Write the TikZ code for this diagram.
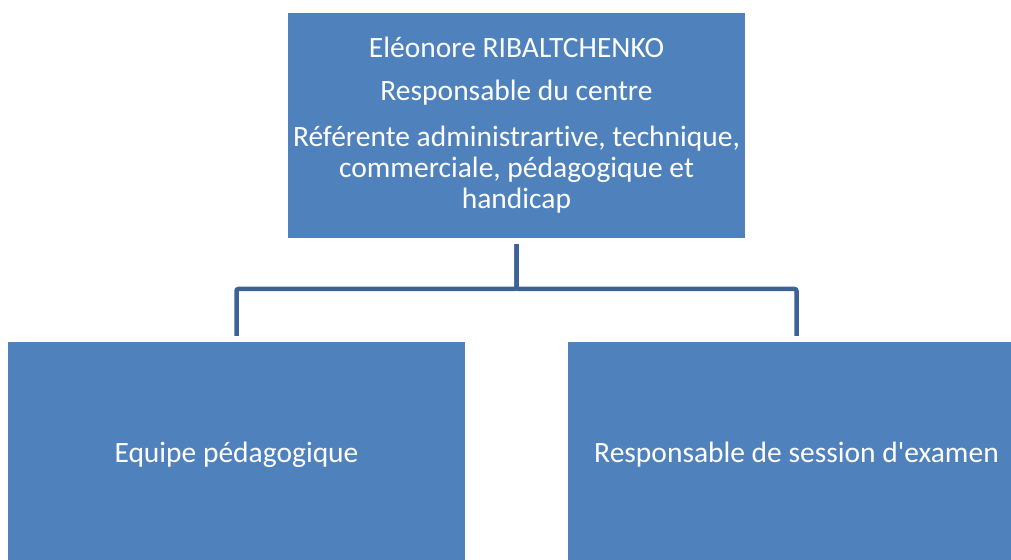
\documentclass[tikz,border=0pt]{standalone}
\usepackage{fontspec}
\setmainfont{Carlito}[Ligatures={TeXOff,NoCommon}]
\definecolor{boxblue}{HTML}{4F81BD}
\definecolor{lineblue}{HTML}{3C6395}
\begin{document}
\begin{tikzpicture}[x=1pt,y=1pt,
  box/.style={fill=boxblue, draw=none, text=white, align=center, inner sep=0pt,
    font=\fontsize{29.5}{31}\selectfont},
  conn/.style={draw=lineblue, line width=4.5pt, shorten <=6pt, shorten >=6pt, rounded corners=2pt}]
\useasboundingbox (0,0) rectangle (1011,559);
\begin{scope}
\clip (0,0) rectangle (1011,559);
\node[box, minimum width=457, minimum height=225] (top) at (516.5,433.5) {};
\node[box, minimum width=457, minimum height=220] (left) at (236.5,107) {};
\node[box, minimum width=457, minimum height=220] (right) at (796.5,107) {};
\end{scope}
\node[box, fill=none] (t1) at (516.5,512) {Eléonore RIBALTCHENKO};
\node[box, fill=none] (t2) at (516.5,466) {Responsable du centre};
\node[box, fill=none] (t3) at (516.5,389) {Référente administrartive, technique,\\commerciale, pédagogique et\\handicap};
\node[box, fill=none] (l1) at (236.5,104) {Equipe pédagogique};
\node[box, fill=none] (r1) at (796.5,104) {Responsable de session d'examen};
\coordinate (j) at (516.5,270);
\draw[conn] (top.south) -- (j) -| (left.north);
\draw[conn] (top.south) -- (j) -| (right.north);
\end{tikzpicture}
\end{document}
